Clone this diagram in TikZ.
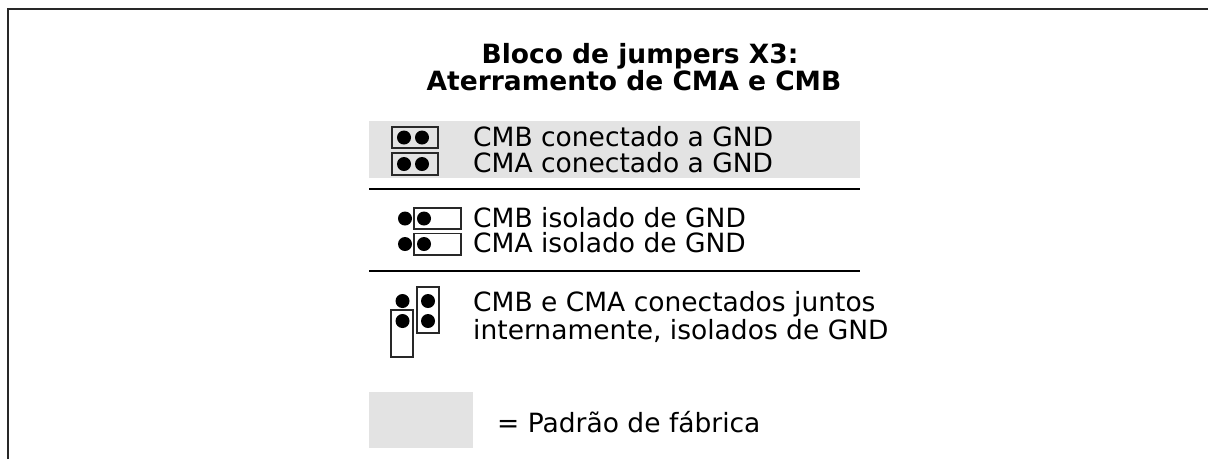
\documentclass[tikz,border=0pt]{standalone}
\usepackage{fontspec}
\setmainfont{DejaVu Sans}
\definecolor{band}{RGB}{227,227,227}
\definecolor{edge}{RGB}{40,40,40}
\begin{document}
\begin{tikzpicture}[x=1pt,y=-1pt,
  txt/.style={anchor=base west,inner sep=0pt,font=\fontsize{26.5}{32}\selectfont},
  ttl/.style={anchor=base,inner sep=0pt,font=\fontsize{26.5}{32}\selectfont\bfseries},
  pin/.style={fill=black},
  jbox/.style={draw=edge,line width=1.3pt},
  sep/.style={draw=black,line width=1.4pt}]
\useasboundingbox (0,0) rectangle (1208,459);
% frame
\draw[line width=1.6pt,edge] (8,459) -- (8,9) -- (1210,9);
% title
\node[ttl] (t1) at (640,63) {Bloco de jumpers X3:};
\node[ttl] (t2) at (634,90) {Aterramento de CMA e CMB};
% grey band (factory default)
\fill[band] (369,121) rectangle (860,178);
% section 1
\draw[jbox] (392,127) rectangle (438,148);
\draw[jbox] (392,153) rectangle (438,175);
\fill[pin] (404,137.5) circle (7) (422,137.5) circle (7);
\fill[pin] (404,164) circle (7) (422,164) circle (7);
\node[txt] (s1a) at (473,146) {CMB conectado a GND};
\node[txt] (s1b) at (473,172) {CMA conectado a GND};
\draw[sep] (369,189) -- (860,189);
% section 2
\draw[jbox] (414,208) rectangle (461,229);
\draw[jbox] (414,233.5) rectangle (461,255);
\fill[pin] (405,218.5) circle (7) (424,218.5) circle (7);
\fill[pin] (405,244) circle (7) (424,244) circle (7);
\node[txt] (s2a) at (473,227.5) {CMB isolado de GND};
\node[txt] (s2b) at (473,252.5) {CMA isolado de GND};
\draw[sep] (369,271) -- (860,271);
% section 3
\draw[jbox] (391,310) rectangle (413,357);
\draw[jbox] (417,287) rectangle (439,333);
\fill[pin] (402.5,301) circle (7) (402.5,321) circle (7);
\fill[pin] (428,301) circle (7) (428,321) circle (7);
\node[txt] (s3a) at (473,311.5) {CMB e CMA conectados juntos};
\node[txt] (s3b) at (473,339) {internamente, isolados de GND};
% legend
\fill[band] (369,392) rectangle (473,448);
\node[txt] (lg) at (497,432.5) {= Padrão de fábrica};
\end{tikzpicture}
\end{document}
